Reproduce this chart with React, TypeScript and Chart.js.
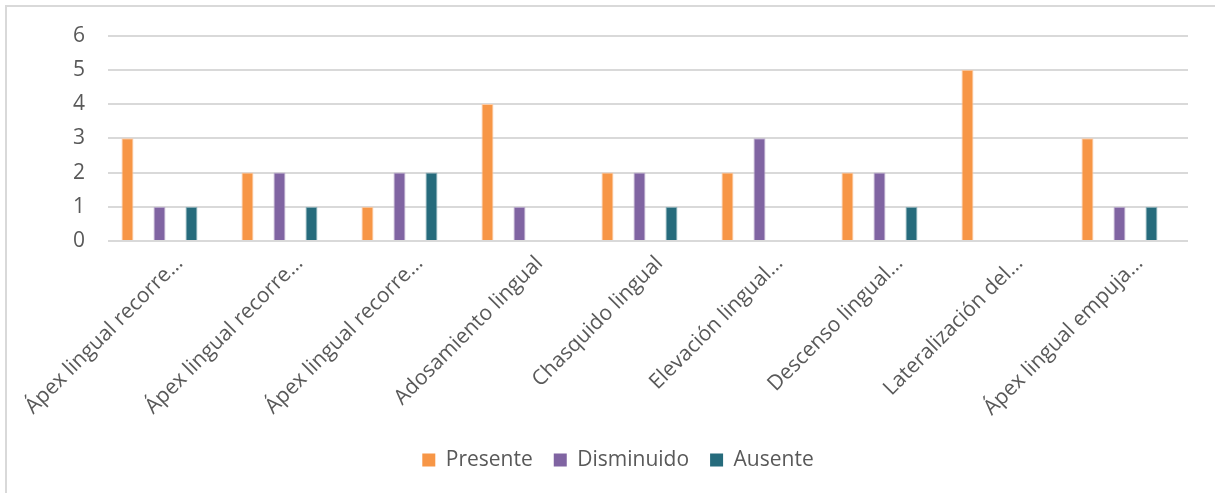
import React, { useEffect, useRef } from "react";
import { Chart, registerables } from "chart.js";

Chart.register(...registerables);

const categories = [
  "Ápex lingual recorre…",
  "Ápex lingual recorre…",
  "Ápex lingual recorre…",
  "Adosamiento lingual",
  "Chasquido lingual",
  "Elevación lingual…",
  "Descenso lingual…",
  "Lateralización del…",
  "Ápex lingual empuja…",
];
const presente = [3, 2, 1, 4, 2, 2, 2, 5, 3];
const disminuido = [1, 2, 2, 1, 2, 3, 2, 0, 1];
const ausente = [1, 1, 2, 0, 1, 0, 1, 0, 1];
const yTicks = [0, 1, 2, 3, 4, 5, 6];

const FONT = "'Open Sans', Lato, sans-serif";
const FS = 21;
const TEXT = "#595959";
const GRID = "#D9D9D9";

export default function App() {
  const ref = useRef<HTMLCanvasElement | null>(null);

  useEffect(() => {
    if (!ref.current) return;
    const toPts = (arr: number[]) => arr.map((v, i) => ({ x: i, y: v }));
    const chart = new Chart(ref.current, {
      type: "bar",
      data: {
        datasets: [
          {
            label: "Presente",
            data: toPts(presente),
            backgroundColor: "#F79646",
            borderColor: "#FBCBA6",
            borderWidth: { left: 1, right: 1, top: 1, bottom: 0 },
          },
          {
            label: "Disminuido",
            data: toPts(disminuido),
            backgroundColor: "#8064A2",
            borderColor: "#BFB1D0",
            borderWidth: { left: 1, right: 1, top: 1, bottom: 0 },
          },
          {
            label: "Ausente",
            data: toPts(ausente),
            backgroundColor: "#266B7C",
            borderColor: "#93B5BD",
            borderWidth: { left: 1, right: 1, top: 1, bottom: 0 },
          },
        ],
      },
      options: {
        animation: false,
        responsive: false,
        devicePixelRatio: 1,
        categoryPercentage: 0.8,
        barPercentage: 0.375,
        layout: { padding: { left: 48, right: 27, top: 35, bottom: 12.5 } },
        plugins: {
          tooltip: { enabled: false },
          legend: {
            position: "bottom",
            labels: {
              color: TEXT,
              font: { family: FONT, size: FS },
              boxWidth: 13,
              boxHeight: 13,
              padding: 21,
              generateLabels: (c: any) =>
                c.data.datasets.map((d: any, i: number) => ({
                  text: d.label,
                  fillStyle: d.backgroundColor,
                  strokeStyle: d.backgroundColor,
                  lineWidth: 0,
                  fontColor: TEXT,
                  hidden: false,
                  datasetIndex: i,
                })),
            },
          },
        },
        scales: {
          x: {
            type: "linear",
            offset: false,
            min: -0.429,
            max: 8.571,
            grid: { display: false, drawTicks: false },
            border: { display: false },
            afterBuildTicks: (s: any) => {
              s.ticks = categories.map((_, i) => ({ value: i }));
            },
            ticks: {
              autoSkip: false,
              minRotation: 45,
              maxRotation: 45,
              padding: 10,
              labelOffset: 20,
              color: TEXT,
              font: { family: FONT, size: FS },
              callback: (v: any) => {
                const i = Math.round(Number(v));
                return i >= 0 && i < categories.length ? categories[i] : "";
              },
            },
            afterFit: (s: any) => {
              s.height = 187.5;
              s.paddingLeft = 0;
              s.paddingRight = 0;
            },
          },
          y: {
            min: yTicks[0],
            max: yTicks[yTicks.length - 1],
            grid: { color: GRID, lineWidth: 2, drawTicks: false },
            border: { display: false },
            ticks: {
              stepSize: 1,
              padding: 23,
              color: TEXT,
              font: { family: FONT, size: FS },
            },
            afterFit: (s: any) => {
              s.width = 60;
            },
          },
        },
      },
    } as any);
    return () => chart.destroy();
  }, []);

  return (
    <div style={{ position: "fixed", left: 0, top: 0, width: 1215, height: 493, background: "#fff", overflow: "hidden" }}>
      <div
        style={{
          position: "absolute",
          left: 5,
          top: 5,
          width: 1230,
          height: 510,
          border: `2px solid ${GRID}`,
          boxSizing: "border-box",
        }}
      />
      <canvas ref={ref} width={1215} height={493} style={{ position: "absolute", left: 0, top: 0 }} />
    </div>
  );
}
